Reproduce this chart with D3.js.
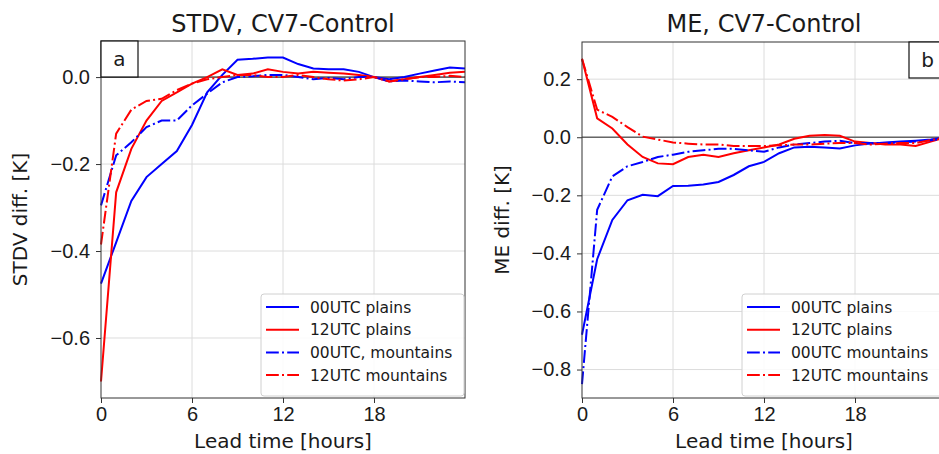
<!DOCTYPE html>
<html>
<head>
<meta charset="utf-8">
<script src="https://cdn.jsdelivr.net/npm/d3@7"></script>
<style>
  body { margin: 0; background: #fff; }
  svg { font-family: "DejaVu Sans", sans-serif; display: block; }
  .grid line { stroke: #dcdcdc; stroke-width: 1; }
  .tick text { fill: #1a1a1a; }
</style>
</head>
<body>
<svg width="939" height="454"></svg>
<script>
// lead time in hours
const hours = d3.range(0, 25);
const xTicks = [0, 6, 12, 18];

// STDV difference, CV7 - Control [K]
const stdv00Plains = [-0.475, -0.38, -0.285, -0.23, -0.2, -0.17, -0.11, -0.035, 0.005, 0.04, 0.042, 0.045, 0.045, 0.03, 0.02, 0.018, 0.018, 0.012, 0.0, -0.005, 0.0, 0.008, 0.015, 0.022, 0.02];
const stdv12Plains = [-0.70, -0.265, -0.165, -0.10, -0.055, -0.035, -0.015, 0.0, 0.018, 0.005, 0.008, 0.018, 0.012, 0.008, 0.012, 0.01, 0.008, 0.005, 0.0, -0.01, -0.005, 0.0, 0.005, 0.01, 0.012];
const stdv00Mount = [-0.295, -0.18, -0.15, -0.115, -0.1, -0.1, -0.065, -0.038, -0.012, 0.0, 0.002, 0.005, 0.005, 0.0, -0.005, -0.002, -0.005, 0.0, 0.0, -0.01, -0.008, -0.01, -0.012, -0.01, -0.012];
const stdv12Mount = [-0.385, -0.13, -0.075, -0.055, -0.05, -0.03, -0.015, -0.005, 0.0, 0.005, 0.005, 0.0, 0.0, 0.005, 0.0, -0.005, -0.008, -0.005, 0.0, -0.01, -0.005, 0.0, 0.0, 0.003, 0.0];

// ME difference, CV7 - Control [K]
const me00Plains = [-0.68, -0.42, -0.285, -0.217, -0.198, -0.203, -0.168, -0.167, -0.163, -0.154, -0.13, -0.1, -0.085, -0.055, -0.035, -0.033, -0.035, -0.039, -0.028, -0.022, -0.018, -0.015, -0.012, -0.008, 0.0];
const me12Plains = [0.27, 0.065, 0.03, -0.025, -0.068, -0.09, -0.093, -0.068, -0.06, -0.068, -0.055, -0.045, -0.035, -0.025, -0.005, 0.005, 0.008, 0.005, -0.015, -0.02, -0.025, -0.025, -0.03, -0.015, 0.0];
const me00Mount = [-0.85, -0.25, -0.135, -0.1, -0.085, -0.068, -0.06, -0.05, -0.045, -0.04, -0.04, -0.045, -0.05, -0.035, -0.025, -0.02, -0.015, -0.012, -0.02, -0.02, -0.02, -0.018, -0.015, -0.01, -0.005];
const me12Mount = [0.27, 0.095, 0.07, 0.035, 0.002, -0.008, -0.018, -0.022, -0.025, -0.025, -0.03, -0.03, -0.03, -0.028, -0.025, -0.025, -0.022, -0.02, -0.02, -0.025, -0.022, -0.02, -0.02, -0.01, 0.0];

const stdvTicks = [0.0, -0.2, -0.4, -0.6];
const meTicks = [0.2, 0.0, -0.2, -0.4, -0.6, -0.8];

const legendA = ["00UTC plains", "12UTC plains", "00UTC, mountains", "12UTC mountains"];
const legendB = ["00UTC plains", "12UTC plains", "00UTC mountains", "12UTC mountains"];

const colors = ["#0000ff", "#ff0000", "#0000ff", "#ff0000"];
const dashes = [null, null, "12.8,3.2,2,3.2", "12.8,3.2,2,3.2"];

const svg = d3.select("svg");

function drawPanel(p) {
  const g = svg.append("g");
  const x = d3.scaleLinear().domain([0, 24]).range([p.left, p.left + 364]);
  const y = d3.scaleLinear().domain(p.yDomain).range([p.bottom, p.top]);

  // grid
  const grid = g.append("g").attr("class", "grid");
  grid.selectAll(".gx").data(xTicks.slice(1)).enter().append("line")
    .attr("x1", d => x(d)).attr("x2", d => x(d))
    .attr("y1", p.top).attr("y2", p.bottom);
  grid.selectAll(".gy").data(p.yTicks).enter().append("line")
    .attr("x1", p.left).attr("x2", x(24))
    .attr("y1", d => y(d)).attr("y2", d => y(d));

  // zero line
  g.append("line")
    .attr("x1", p.left).attr("x2", x(24))
    .attr("y1", y(0)).attr("y2", y(0))
    .attr("stroke", "#666").attr("stroke-width", 1.6);

  // lines
  const line = d3.line().x((d, i) => x(hours[i])).y(d => y(d));
  p.series.forEach((s, i) => {
    g.append("path")
      .datum(s)
      .attr("fill", "none")
      .attr("stroke", colors[i])
      .attr("stroke-width", 2)
      .attr("stroke-dasharray", dashes[i])
      .attr("d", line);
  });

  // frame
  g.append("rect")
    .attr("x", p.left).attr("y", p.top)
    .attr("width", 364).attr("height", p.bottom - p.top)
    .attr("fill", "none").attr("stroke", "#333").attr("stroke-width", 1);

  // axes
  const xAxis = g.append("g")
    .attr("transform", `translate(0,${p.bottom})`)
    .call(d3.axisBottom(x).tickValues(xTicks).tickSize(5).tickPadding(4).tickFormat(d3.format("d")));
  const yAxis = g.append("g")
    .attr("transform", `translate(${p.left},0)`)
    .call(d3.axisLeft(y).tickValues(p.yTicks).tickSize(5).tickPadding(6)
      .tickFormat(d => d3.format(".1f")(d).replace("-", "\u2212")));
  [xAxis, yAxis].forEach(a => {
    a.select(".domain").remove();
    a.selectAll(".tick line").attr("stroke", "#333");
    a.selectAll(".tick text").attr("font-size", 20);
  });

  // titles
  g.append("text")
    .attr("x", p.left + 182).attr("y", 32)
    .attr("text-anchor", "middle").attr("font-size", 24).attr("fill", "#1a1a1a")
    .text(p.title);
  g.append("text")
    .attr("x", p.left + 182).attr("y", 448)
    .attr("text-anchor", "middle").attr("font-size", 20).attr("fill", "#1a1a1a")
    .text("Lead time [hours]");
  g.append("text")
    .attr("transform", `translate(${p.ylabelX},${(p.top + p.bottom) / 2}) rotate(-90)`)
    .attr("text-anchor", "middle").attr("font-size", 20).attr("fill", "#1a1a1a")
    .text(p.ylabel);

  // panel letter box
  const lb = g.append("g");
  lb.append("rect")
    .attr("x", p.letterX).attr("y", p.top)
    .attr("width", 37).attr("height", 36)
    .attr("fill", "#fff").attr("stroke", "#111").attr("stroke-width", 1.2);
  lb.append("text")
    .attr("x", p.letterX + 18.5).attr("y", p.top + 25)
    .attr("text-anchor", "middle").attr("font-size", 20).attr("fill", "#1a1a1a")
    .text(p.letter);

  // legend
  const lg = g.append("g").attr("transform", `translate(${x(24) - 204},294)`);
  lg.append("rect")
    .attr("width", 203).attr("height", 102).attr("rx", 3)
    .attr("fill", "#fff").attr("fill-opacity", 0.85)
    .attr("stroke", "#d0d0d0");
  p.legend.forEach((t, i) => {
    const yy = 13 + i * 22.7;
    lg.append("line")
      .attr("x1", 5).attr("x2", 38).attr("y1", yy).attr("y2", yy)
      .attr("stroke", colors[i]).attr("stroke-width", 2)
      .attr("stroke-dasharray", dashes[i]);
    lg.append("text")
      .attr("x", 49).attr("y", yy + 5.5)
      .attr("font-size", 15.5).attr("fill", "#1a1a1a")
      .text(t);
  });
}

drawPanel({
  left: 101, top: 41, bottom: 398,
  yDomain: [-0.738, 0.083], yTicks: stdvTicks,
  series: [stdv00Plains, stdv12Plains, stdv00Mount, stdv12Mount],
  title: "STDV, CV7-Control", ylabel: "STDV diff. [K]", ylabelX: 27,
  letter: "a", letterX: 101, legend: legendA
});

drawPanel({
  left: 582, top: 42, bottom: 398,
  yDomain: [-0.898, 0.328], yTicks: meTicks,
  series: [me00Plains, me12Plains, me00Mount, me12Mount],
  title: "ME, CV7-Control", ylabel: "ME diff. [K]", ylabelX: 509,
  letter: "b", letterX: 909, legend: legendB
});
</script>
</body>
</html>
